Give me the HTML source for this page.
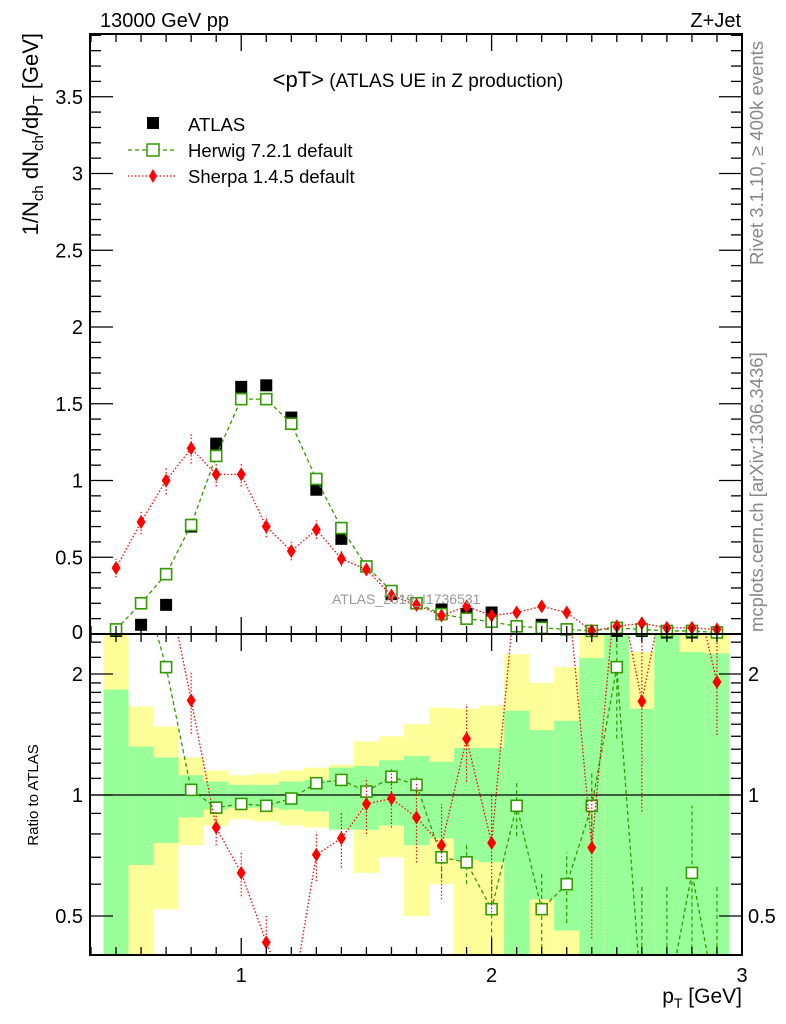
<!DOCTYPE html>
<html><head><meta charset="utf-8">
<style>
html,body{margin:0;background:#fff;width:786px;height:1024px;overflow:hidden;}
svg{display:block;font-family:"Liberation Sans",Arial,sans-serif;}
</style></head>
<body>
<svg id="chart" width="786" height="1024" viewBox="0 0 786 1024" xmlns="http://www.w3.org/2000/svg">
<g id="bands"></g>
<g id="marks"></g>
<g id="axes"></g>
<text x="100" y="27" font-size="20">13000 GeV pp</text>
<text x="741" y="27" font-size="20" text-anchor="end">Z+Jet</text>
<text x="418" y="87" font-size="19" text-anchor="middle"><tspan font-size="22">&lt;pT&gt;</tspan> (ATLAS UE in Z production)</text>
<text x="332" y="604" font-size="14" fill="#999">ATLAS_2019_I1736531</text>
<text transform="translate(763,265) rotate(-90)" font-size="18.5" fill="#888">Rivet 3.1.10, ≥ 400k events</text>
<text transform="translate(763,632) rotate(-90)" font-size="18.5" fill="#888">mcplots.cern.ch [arXiv:1306.3436]</text>
<text transform="translate(38,33) rotate(-90)" font-size="22" text-anchor="end">1/N<tspan font-size="15" dy="5">ch</tspan><tspan dy="-5"> dN</tspan><tspan font-size="15" dy="5">ch</tspan><tspan dy="-5">/dp</tspan><tspan font-size="15" dy="5">T</tspan><tspan dy="-5"> [GeV]</tspan></text>
<text transform="translate(38,795) rotate(-90)" font-size="15" text-anchor="middle">Ratio to ATLAS</text>
<text x="742" y="1003" font-size="21" text-anchor="end">p<tspan font-size="14" dy="5">T</tspan><tspan dy="-5"> [GeV]</tspan></text>
<g>
<rect x="147" y="117" width="12" height="12" fill="#000"/>
<text x="188" y="131" font-size="18.5">ATLAS</text>
<line x1="128" y1="150" x2="175" y2="150" stroke="#339900" stroke-width="1.3" stroke-dasharray="4,3"/>
<rect x="147" y="144" width="12" height="12" fill="#fff" stroke="#339900" stroke-width="1.5"/>
<text x="188" y="157" font-size="18.5">Herwig 7.2.1 default</text>
<line x1="128" y1="176" x2="175" y2="176" stroke="#f00" stroke-width="1.3" stroke-dasharray="1.5,2"/>
<polygon points="153,169 157,176 153,183 149,176" fill="#f00"/>
<text x="188" y="183" font-size="18.5">Sherpa 1.4.5 default</text>
</g>
</svg>
<script>
const xs = [0.5,0.6,0.7,0.8,0.9,1.0,1.1,1.2,1.3,1.4,1.5,1.6,1.7,1.8,1.9,2.0,2.1,2.2,2.3,2.4,2.5,2.6,2.7,2.8,2.9];
const atlas = [0.02,0.06,0.19,0.70,1.24,1.61,1.62,1.41,0.94,0.62,0.44,0.26,0.20,0.16,0.13,0.14,0.05,0.06,0.03,0.02,0.02,0.02,0.01,0.01,0.01];
const herwig = [0.03,0.20,0.39,0.71,1.16,1.53,1.53,1.37,1.01,0.69,0.44,0.28,0.20,0.13,0.10,0.08,0.05,0.04,0.03,0.02,0.04,0.03,0.02,0.02,0.01];
const herwigErr = [0.01,0.01,0.01,0.02,0.02,0.03,0.03,0.03,0.02,0.02,0.02,0.01,0.01,0.01,0.01,0.01,0.01,0.01,0.01,0.01,0.01,0.01,0.01,0.01,0.01];
const sherpa = [0.43,0.73,1.00,1.21,1.04,1.04,0.70,0.54,0.68,0.49,0.42,0.25,0.19,0.12,0.18,0.12,0.14,0.18,0.14,0.02,0.05,0.07,0.04,0.04,0.03];
const sherpaErr = [0.06,0.08,0.09,0.10,0.08,0.08,0.07,0.06,0.06,0.05,0.04,0.04,0.03,0.03,0.03,0.03,0.03,0.03,0.03,0.02,0.02,0.02,0.02,0.02,0.02];
const herwigRatio = [3.5,3.5,2.08,1.03,0.93,0.95,0.94,0.98,1.07,1.09,1.02,1.11,1.06,0.70,0.68,0.52,0.94,0.52,0.60,0.94,2.08,0.3,0.3,0.64,0.3];
const herwigRatioErr = [0.1,0.1,0.08,0.02,0.02,0.01,0.01,0.01,0.02,0.03,0.04,0.05,0.06,0.08,0.08,0.1,0.15,0.12,0.12,0.2,0.7,0.3,0.3,0.3,0.3];
const sherpaRatio = [3.5,3.5,3.5,1.72,0.83,0.64,0.43,0.3,0.71,0.78,0.95,0.98,0.88,0.75,1.38,0.76,3.5,3.5,3.5,0.74,3.5,1.71,3.5,3.5,1.91];
const sherpaRatioErr = [0.3,0.3,0.3,0.3,0.08,0.08,0.07,0.07,0.1,0.12,0.15,0.15,0.2,0.2,0.3,0.25,0.5,0.5,0.5,0.3,0.5,0.8,0.5,0.5,0.5];
const greenLo = [0.3,0.67,0.76,0.88,0.92,0.93,0.93,0.92,0.91,0.82,0.82,0.84,0.75,0.78,0.69,0.68,0.3,0.55,0.46,0.3,0.3,0.3,0.3,0.3,0.3];
const greenHi = [1.83,1.32,1.24,1.12,1.08,1.06,1.06,1.08,1.09,1.17,1.18,1.22,1.25,1.21,1.31,1.31,1.62,1.45,1.53,2.19,3.0,1.64,3.0,2.27,2.25];
const yellowLo = [0.3,0.3,0.52,0.75,0.84,0.87,0.86,0.84,0.83,0.82,0.64,0.70,0.50,0.60,0.3,0.3,0.3,0.3,0.3,0.3,0.3,0.3,0.3,0.3,0.3];
const yellowHi = [3.0,1.66,1.48,1.24,1.15,1.12,1.13,1.15,1.17,1.19,1.36,1.40,1.50,1.65,1.64,1.67,2.24,1.9,2.08,3.0,3.0,2.27,3.0,3.0,3.0];
const mainTicks = ["0.5","1","1.5","2","2.5","3","3.5"];
const ratioTicks = ["0.5","1","2"];
const xTicks = ["1","2","3"];

const NS="http://www.w3.org/2000/svg";
const L=90,R=742,T=34,MB=634,RB=955;
const X=v=>L+(v-0.396)*(R-L)/(3.0-0.396);
const YM=v=>MB-v*153.5;
const YR=v=>795-Math.log10(v)*402;
function mk(tag,attrs,parent){const e=document.createElementNS(NS,tag);for(const k in attrs)e.setAttribute(k,attrs[k]);parent.appendChild(e);return e;}
const bands=document.getElementById('bands'),marks=document.getElementById('marks'),axes=document.getElementById('axes');
const cR=y=>Math.max(MB,Math.min(RB,y));
xs.forEach((x,i)=>{
  const x0=X(x-0.05),x1=X(x+0.05);
  let y1=cR(YR(yellowHi[i])),y2=cR(YR(yellowLo[i]));
  let r=mk('rect',{x:x0,y:y1,width:x1-x0,height:y2-y1,fill:'#ffff99'},bands);
  
  
  y1=cR(YR(greenHi[i]));y2=cR(YR(greenLo[i]));
  r=mk('rect',{x:x0,y:y1,width:x1-x0,height:y2-y1,fill:'#99ff99'},bands);
  
  
});
const defs=mk('defs',{},document.getElementById('chart'));
const c1=mk('clipPath',{id:'cm'},defs);mk('rect',{x:L,y:T,width:R-L,height:MB-T+6},c1);
const c2=mk('clipPath',{id:'cr'},defs);mk('rect',{x:L,y:MB,width:R-L,height:RB-MB},c2);
const gm=mk('g',{'clip-path':'url(#cm)'},marks);
const gr=mk('g',{'clip-path':'url(#cr)'},marks);
mk('line',{x1:L,y1:YR(1),x2:R,y2:YR(1),stroke:'#000','stroke-width':1.3},gr);
function series(g,vals,errs,Y,color,dash,shape,name){
  const pts=xs.map((x,i)=>X(x)+','+Y(vals[i])).join(' ');
  const pl=mk('polyline',{points:pts,fill:'none',stroke:color,'stroke-width':1.3,'stroke-dasharray':dash},g);
  
  
  xs.forEach((x,i)=>{
    const cx=X(x),cy=Y(vals[i]);
    if(errs){const e=mk('line',{x1:cx,x2:cx,y1:Y(Math.max(vals[i]-errs[i],0.05)),y2:Y(vals[i]+errs[i]),stroke:color,'stroke-width':1.2,'stroke-dasharray':dash},g);
      
      }
    let m;
    if(shape==='sq') m=mk('rect',{x:cx-5.5,y:cy-5.5,width:11,height:11,fill:'#fff',stroke:color,'stroke-width':1.6},g);
    else m=mk('polygon',{points:`${cx},${cy-7} ${cx+4.5},${cy} ${cx},${cy+7} ${cx-4.5},${cy}`,fill:color},g);
    
    
  });
}
const ga=mk('g',{},gm);
xs.forEach((x,i)=>{const m=mk('rect',{x:X(x)-6,y:YM(atlas[i])-6,width:12,height:12,fill:'#000'},ga);
  
  });
series(gm,herwig,herwigErr,YM,'#339900','4,3','sq','herwig');
series(gm,sherpa,sherpaErr,YM,'#ff0000','1.5,2','dia','sherpa');
series(gr,herwigRatio,herwigRatioErr,YR,'#339900','4,3','sq','herwig-ratio');
series(gr,sherpaRatio,sherpaRatioErr,YR,'#ff0000','1.5,2','dia','sherpa-ratio');
mk('rect',{x:L,y:T,width:R-L,height:MB-T,fill:'none',stroke:'#000','stroke-width':2},axes);
mk('rect',{x:L,y:MB,width:R-L,height:RB-MB,fill:'none',stroke:'#000','stroke-width':2},axes);
function tk(x1,y1,x2,y2){mk('line',{x1,y1,x2,y2,stroke:'#000','stroke-width':1.3},axes);}
function txt(x,y,s,anchor,size,name){const t=mk('text',{x,y,'font-size':size,'text-anchor':anchor},axes);t.textContent=s;
  
  }
for(let k=4;k<=30;k++){const v=k/10,px=X(v),maj=(k%10===0),len=maj?17:8;
  tk(px,MB,px,MB-len);tk(px,T,px,T+len);tk(px,RB,px,RB-len);tk(px,MB,px,MB+len);}
xTicks.forEach(s=>txt(X(+s),982,s,'middle',20,'x-tick-label'));
for(let k=0;k<=39;k++){const v=k/10,py=YM(v),maj=(k%5===0),len=maj?23:11;
  tk(L,py,L+len,py);tk(R,py,R-len,py);}
mainTicks.forEach(s=>txt(83,YM(+s)+7,s,'end',20,'y-tick-label'));
txt(83,YM(0)+5,'0','end',20,'y-tick-label');
[0.4,0.5,0.6,0.7,0.8,0.9,1,2].forEach(v=>{const py=YR(v),maj=(v===1||v===2||v===0.5),len=maj?23:11;tk(L,py,L+len,py);tk(R,py,R-len,py);});
[1.1,1.2,1.3,1.4,1.5,1.6,1.7,1.8,1.9,2.2,2.4].forEach(v=>{const py=YR(v);tk(L,py,L+11,py);tk(R,py,R-11,py);});
ratioTicks.forEach(s=>{txt(83,YR(+s)+7,s,'end',20,'ratio-tick-label');txt(748,YR(+s)+7,s,'start',20,'ratio-tick-label-right');});
</script>
</body></html>
